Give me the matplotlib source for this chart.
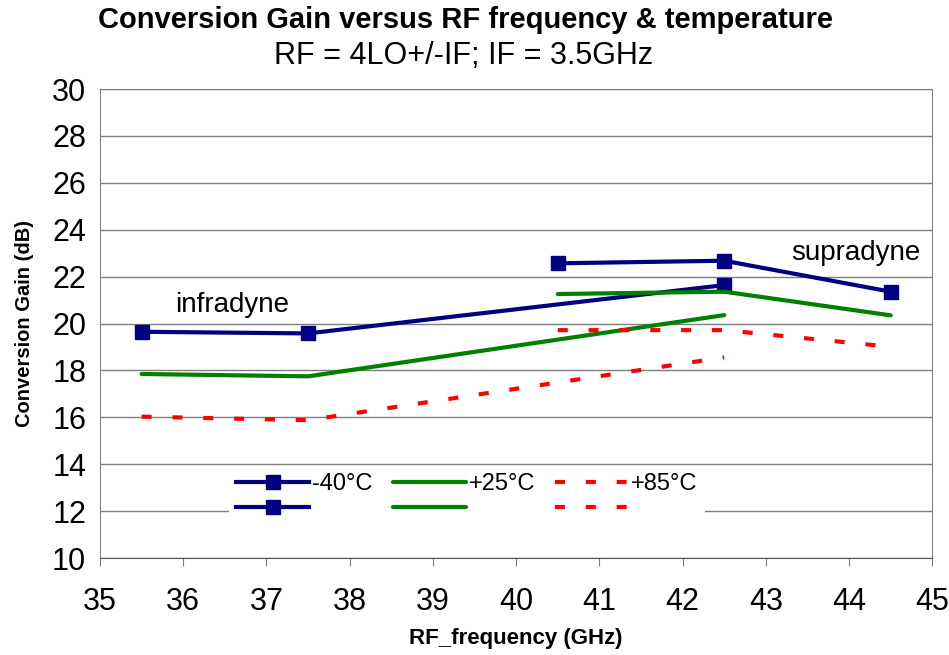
import numpy as np
from matplotlib import pyplot as plt

plt.rcParams['font.family'] = ['Liberation Sans', 'DejaVu Sans']

# infradyne sweep (RF = 4LO - IF) and supradyne sweep (RF = 4LO + IF)
freq_infra = [35.5, 37.5, 42.5]
freq_supra = [40.5, 42.5, 44.5]

gain_m40_infra = [19.65, 19.58, 21.64]
gain_p25_infra = [17.85, 17.75, 20.36]
gain_p85_infra = [16.03, 15.88, 18.56]

gain_m40_supra = [22.57, 22.68, 21.36]
gain_p25_supra = [21.26, 21.36, 20.35]
gain_p85_supra = [19.72, 19.72, 19.01]

temp_labels = ['-40°C', '+25°C', '+85°C']

navy = '#000080'
green = '#008000'
red = '#ff0000'

fig = plt.figure(figsize=(9.49, 6.55), dpi=100)
ax = fig.add_axes([0.1054, 0.148, 0.877, 0.716])

red_dash = (0, (2.4, 5))

l1, = ax.plot(freq_infra, gain_m40_infra, c=navy, lw=3, marker='s', ms=10, label=temp_labels[0])
l2, = ax.plot(freq_supra, gain_m40_supra, c=navy, lw=3, marker='s', ms=10, label=' ')
l3, = ax.plot(freq_infra, gain_p25_infra, c=green, lw=3, solid_capstyle='round', label=temp_labels[1])
l4, = ax.plot(freq_supra, gain_p25_supra, c=green, lw=3, solid_capstyle='round', label=' ')
l5, = ax.plot(freq_infra, gain_p85_infra, c=red, lw=3, ls=red_dash, dash_capstyle='butt', label=temp_labels[2])
l6, = ax.plot(freq_supra, gain_p85_supra, c=red, lw=3, ls=red_dash, dash_capstyle='butt', label=' ')

ax.set_xlim(35, 45)
ax.set_ylim(10, 30)
ax.set_xticks(np.arange(35, 46, 1))
ax.set_yticks(np.arange(10, 31, 2))
ax.tick_params(axis='x', direction='out', length=6, color='#808080', labelsize=22, pad=15)
ax.tick_params(axis='y', length=0, labelsize=22, pad=10)
ax.grid(True, axis='y', color='#7f7f7f', lw=1)
ax.set_axisbelow(True)
for side in ['left', 'right', 'top']:
    ax.spines[side].set_color('#808080')
ax.spines['bottom'].set_color('#555555')

ax.text(35.9, 20.8, 'infradyne', fontsize=20, va='center', ha='left')
ax.text(43.3, 23.0, 'supradyne', fontsize=20, va='center', ha='left')

ax.set_xlabel('RF_frequency (GHz)', fontsize=16, fontweight='bold', labelpad=8)
ax.set_ylabel('Conversion Gain (dB)', fontsize=14.5, fontweight='bold', labelpad=13)

leg = ax.legend(handles=[l1, l2, l3, l4, l5, l6], ncol=3, loc='upper left',
                bbox_to_anchor=(0.155, 0.196), fontsize=17, frameon=True,
                facecolor='white', edgecolor='none', framealpha=1, fancybox=False,
                handlelength=3.1, handleheight=0.6, handletextpad=0.12,
                columnspacing=0.85, labelspacing=0.1, borderpad=0.3,
                borderaxespad=0)

fig.text(0.490, 0.969, 'Conversion Gain versus RF frequency & temperature',
         ha='center', va='center', fontsize=21, fontweight='bold')
fig.text(0.488, 0.915, 'RF = 4LO+/-IF; IF = 3.5GHz', ha='center', va='center', fontsize=22)

plt.savefig('out.png', dpi=100)
